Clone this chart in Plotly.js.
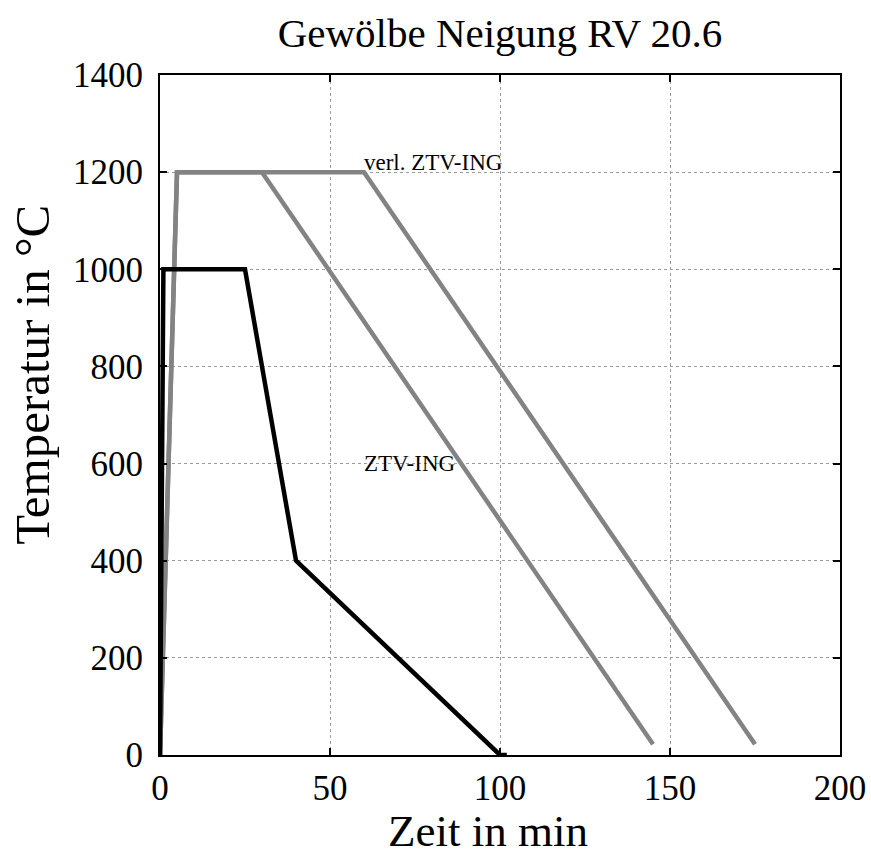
<!DOCTYPE html>
<html>
<head>
<meta charset="utf-8">
<script src="https://cdn.plot.ly/plotly-3.0.1.min.js"></script>
<style>html,body{margin:0;padding:0;background:#fff;}#chart{width:871px;height:857px;}</style>
</head>
<body>
<div id="chart"></div>
<script>
// Data
const chartTitle = "Gewölbe Neigung RV 20.6";
const xTitle = "Zeit in min";
const yTitle = "Temperatur in °C";

const rvTime = [0, 1, 25, 40, 100, 102];
const rvTemp = [0, 1000, 1000, 400, 0, 0];

const ztvTime = [0, 5, 30, 145];
const ztvTemp = [0, 1200, 1200, 22];

const verlZtvTime = [0, 5, 60, 175];
const verlZtvTemp = [0, 1200, 1200, 22];

const labelTexts = ["verl. ZTV-ING", "ZTV-ING"];
const labelX = [60, 60];
const labelY = [1200, 600];

const xTicks = [0, 50, 100, 150, 200];
const yTicks = [0, 200, 400, 600, 800, 1000, 1200, 1400];

const serif = "Liberation Serif, Times New Roman, serif";

const traces = [
  {x: ztvTime, y: ztvTemp, mode: "lines", line: {color: "#838383", width: 4.5}, hoverinfo: "skip"},
  {x: verlZtvTime, y: verlZtvTemp, mode: "lines", line: {color: "#838383", width: 4.5}, hoverinfo: "skip"},
  {x: rvTime, y: rvTemp, mode: "lines", line: {color: "#000000", width: 4.5}, hoverinfo: "skip"}
];

const axisCommon = {
  showline: true, linecolor: "#000", linewidth: 2, mirror: "allticks",
  ticks: "inside", ticklen: 7, tickwidth: 2, tickcolor: "#000",
  showgrid: true, gridcolor: "#9a9a9a", griddash: "dot", gridwidth: 1,
  zeroline: false,
  tickfont: {family: serif, size: 35, color: "#000"}
};

const annots = labelTexts.map((t, i) => ({
  x: labelX[i], y: labelY[i], xref: "x", yref: "y", text: t, showarrow: false,
  xanchor: "left", yanchor: i === 0 ? "bottom" : "middle",
  font: {family: serif, size: 23, color: "#000"}, xshift: -2, yshift: i === 0 ? -5 : 0
}));
// axis titles placed as text annotations to match reference position
annots.push({
  x: 0.482, y: -0.112, xref: "paper", yref: "paper", text: xTitle, showarrow: false,
  xanchor: "center", yanchor: "middle", font: {family: serif, size: 45, color: "#000"}
});
annots.push({
  x: -0.187, y: 0.559, xref: "paper", yref: "paper", text: yTitle, showarrow: false,
  textangle: -90, xanchor: "center", yanchor: "middle", font: {family: serif, size: 49, color: "#000"}
});

const layout = {
  width: 871, height: 857,
  margin: {l: 160, r: 31, t: 75, b: 102},
  paper_bgcolor: "#fff", plot_bgcolor: "#fff",
  showlegend: false,
  title: {text: chartTitle, font: {family: serif, size: 41, color: "#000"},
          x: 0.5, xref: "paper", xanchor: "center", y: 0.962, yref: "container", yanchor: "middle"},
  xaxis: Object.assign({}, axisCommon, {
    range: [0, 200], tickvals: xTicks, ticktext: xTicks.map(String), ticklabelstandoff: 1
  }),
  yaxis: Object.assign({}, axisCommon, {
    range: [0, 1400], tickvals: yTicks, ticktext: yTicks.map(String), ticklabelstandoff: 8
  }),
  annotations: annots
};

Plotly.newPlot("chart", traces, layout, {staticPlot: true, displayModeBar: false});
</script>
</body>
</html>
